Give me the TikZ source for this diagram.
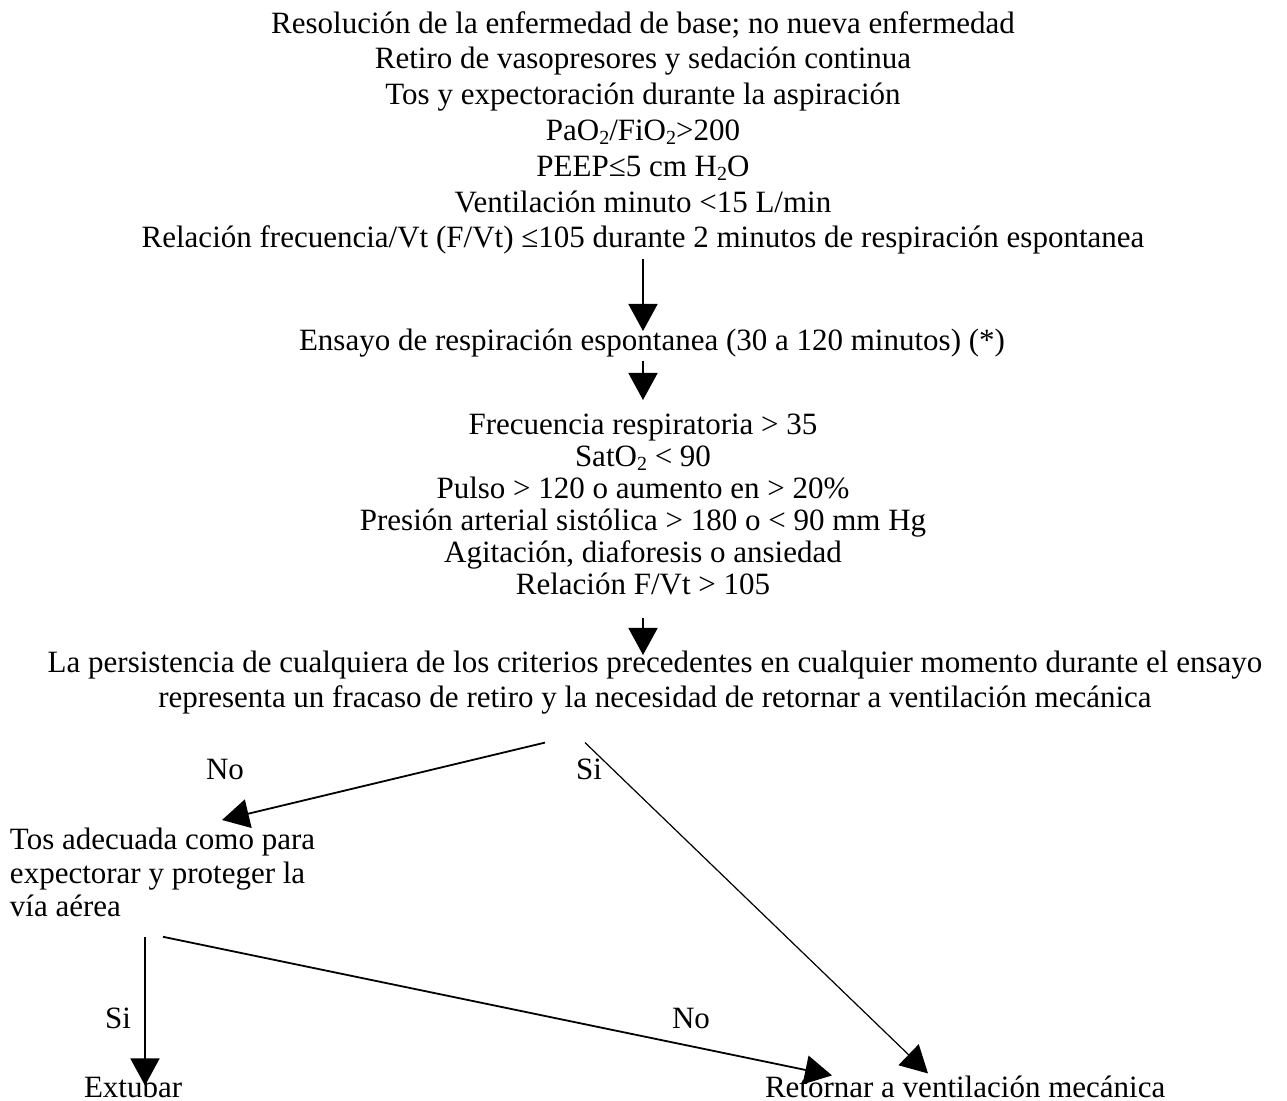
\documentclass[tikz,border=0pt]{standalone}
\usepackage{fontspec}
\setmainfont{Liberation Serif}
\usetikzlibrary{arrows.meta}

% small lowered index for chemical formulas
\newcommand{\chemsub}[1]{\raisebox{-2.2pt}{\fontsize{10}{10}\selectfont #1}}

\tikzset{
  txt/.style={inner sep=0pt, outer sep=0pt, font=\fontsize{15.5}{17.9}\selectfont},
  block/.style={txt, align=center, anchor=north},
  lblock/.style={txt, align=left, anchor=north west},
  lbl/.style={txt, anchor=base},
  arr/.style={line width=0.9pt, -{Triangle[length=13.5pt,width=14.5pt]}},
  thinarr/.style={line width=0.6pt, -{Triangle[length=13.5pt,width=14.5pt]}}
}

\begin{document}
\begin{tikzpicture}[x=0.5pt, y=-0.5pt]
  \useasboundingbox (0,0) rectangle (1287,1101);

  % weaning readiness criteria
  \node[block] (crit) at (643,8) {%
    \strut Resolución de la enfermedad de base; no nueva enfermedad\\
    \strut Retiro de vasopresores y sedación continua\\
    \strut Tos y expectoración durante la aspiración\\
    \strut PaO\chemsub{2}/FiO\chemsub{2}>200\\
    \strut PEEP≤5 cm H\chemsub{2}O\\
    \strut Ventilación minuto <15 L/min\\
    \strut Relación frecuencia/Vt (F/Vt) ≤105 durante 2 minutos de respiración espontanea};

  % spontaneous breathing trial
  \node[block] (ensayo) at (652,325) {\strut Ensayo de respiración espontanea (30 a 120 minutos) (*)};

  % failure criteria during the trial
  \node[block, font=\fontsize{15.5}{16}\selectfont] (fallo) at (643,412) {%
    \strut Frecuencia respiratoria > 35\\
    \strut SatO\chemsub{2} < 90\\
    \strut Pulso > 120 o aumento en > 20\%\\
    \strut Presión arterial sistólica > 180 o < 90 mm Hg\\
    \strut Agitación, diaforesis o ansiedad\\
    \strut Relación F/Vt > 105};

  \node[block] (persist) at (655,647) {%
    \strut La persistencia de cualquiera de los criterios precedentes en cualquier momento durante el ensayo\\
    \strut representa un fracaso de retiro y la necesidad de retornar a ventilación mecánica};

  % airway protection question
  \node[lblock, font=\fontsize{15.5}{16.8}\selectfont] (tos) at (10,826) {%
    \strut Tos adecuada como para\\
    \strut expectorar y proteger la\\
    \strut vía aérea};

  % outcomes
  \node[txt, anchor=base west] (ext) at (84,1097) {Extubar};
  \node[txt, anchor=base west] (ret) at (765,1097) {Retornar a ventilación mecánica};

  % branch labels
  \node[lbl] (no1) at (225,780) {No};
  \node[lbl] (si1) at (589,780) {Si};
  \node[lbl] (si2) at (118,1028) {Si};
  \node[lbl] (no2) at (691,1028) {No};

  % connectors
  \draw[arr] (crit.south) -- ([yshift=-3pt]crit.south |- ensayo.north);
  \draw[arr] (crit.south |- ensayo.south) -- ([yshift=6pt]crit.south |- fallo.north);
  \draw[arr] ([yshift=-7pt]crit.south |- fallo.south) -- ([yshift=-4pt]crit.south |- persist.north);
  \draw[arr] ([shift={(-55pt,-12pt)}]persist.south) -- ([shift={(106pt,3pt)}]tos.north west);
  \draw[thinarr] ([shift={(-35pt,-12pt)}]persist.south) -- ([shift={(81.5pt,1pt)}]ret.north west);
  \draw[arr] ([shift={(67.5pt,-5pt)}]tos.south west) -- ([shift={(30.5pt,-5pt)}]ext.north west);
  \draw[arr] ([shift={(76.5pt,-5pt)}]tos.south west) -- ([shift={(33.5pt,0pt)}]ret.north west);
\end{tikzpicture}
\end{document}
